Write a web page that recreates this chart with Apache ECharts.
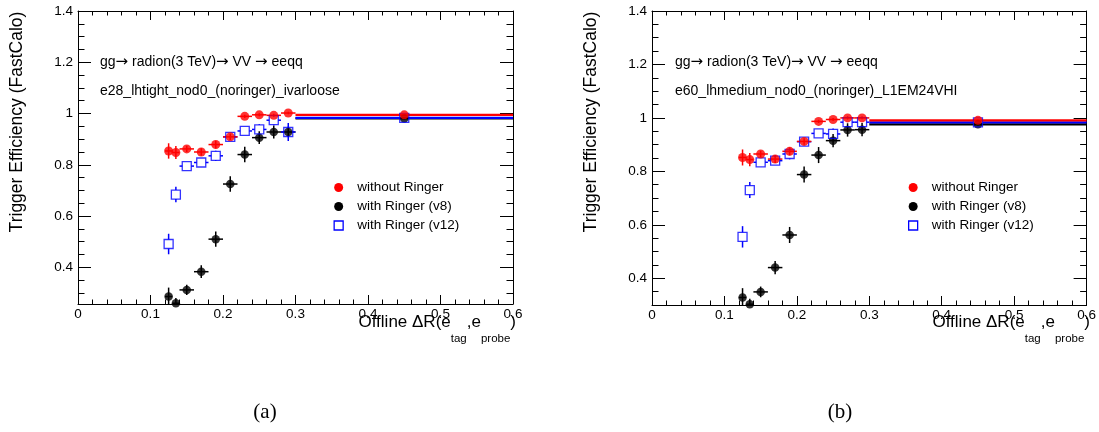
<!DOCTYPE html>
<html><head><meta charset="utf-8">
<script src="https://cdn.jsdelivr.net/npm/echarts@6/dist/echarts.min.js"></script>
<style>html,body{margin:0;padding:0;background:#fff}#c{width:1099px;height:432px}</style>
</head><body><div id="c"></div>
<script>
// ---- data ----
const binCenters    = [0.125, 0.135, 0.15, 0.17, 0.19, 0.21, 0.23, 0.25, 0.27, 0.29, 0.45];
const binHalfWidths = [0.005, 0.005, 0.01, 0.01, 0.01, 0.01, 0.01, 0.01, 0.01, 0.01, 0.15];

// panel (a): e28_lhtight_nod0_(noringer)_ivarloose
const a_noRinger     = [0.854, 0.848, 0.862, 0.850, 0.879, 0.909, 0.989, 0.995, 0.993, 1.002, 0.995];
const a_noRingerErr  = [0.030, 0.025, 0.012, 0.015, 0.015, 0.012, 0.006, 0.006, 0.006, 0.005, 0.003];
const a_v8           = [0.286, 0.260, 0.312, 0.383, 0.510, 0.725, 0.840, 0.906, 0.928, 0.928, 0.981];
const a_v8Err        = [0.035, 0.020, 0.020, 0.025, 0.030, 0.030, 0.030, 0.025, 0.025, 0.020, 0.004];
const a_v12          = [0.491, 0.684, 0.795, 0.809, 0.835, 0.909, 0.932, 0.938, 0.974, 0.928, 0.983];
const a_v12Err       = [0.040, 0.030, 0.010, 0.015, 0.020, 0.015, 0.015, 0.020, 0.020, 0.035, 0.004];

// panel (b): e60_lhmedium_nod0_(noringer)_L1EM24VHI
const b_noRinger     = [0.852, 0.844, 0.865, 0.846, 0.875, 0.912, 0.987, 0.994, 1.000, 1.000, 0.991];
const b_noRingerErr  = [0.030, 0.025, 0.012, 0.015, 0.015, 0.012, 0.006, 0.006, 0.006, 0.005, 0.003];
const b_v8           = [0.328, 0.303, 0.349, 0.440, 0.562, 0.788, 0.861, 0.915, 0.955, 0.956, 0.976];
const b_v8Err        = [0.035, 0.020, 0.020, 0.025, 0.030, 0.030, 0.030, 0.025, 0.025, 0.025, 0.004];
const b_v12          = [0.555, 0.730, 0.834, 0.840, 0.865, 0.911, 0.942, 0.940, 0.984, 0.984, 0.983];
const b_v12Err       = [0.040, 0.030, 0.012, 0.015, 0.020, 0.015, 0.015, 0.020, 0.020, 0.020, 0.004];

// ---- ticks ----
const xMajorTicks = [0, 0.1, 0.2, 0.3, 0.4, 0.5, 0.6];
const xMinorTicks = [0.02, 0.04, 0.06, 0.08, 0.12, 0.14, 0.16, 0.18, 0.22, 0.24, 0.26, 0.28,
                     0.32, 0.34, 0.36, 0.38, 0.42, 0.44, 0.46, 0.48, 0.52, 0.54, 0.56, 0.58];
const yMajorTicks = [0.4, 0.6, 0.8, 1.0, 1.2, 1.4];
const yMinorTicks = [0.3, 0.35, 0.45, 0.5, 0.55, 0.65, 0.7, 0.75, 0.85, 0.9, 0.95,
                     1.05, 1.1, 1.15, 1.25, 1.3, 1.35];
const yMinA = 0.257, yMinB = 0.3, yMax = 1.4;

const seriesNames = ['without Ringer', 'with Ringer (v8)', 'with Ringer (v12)'];
const titleLine1 = '{t|gg}{a|\u2192}{t| radion(3 TeV)}{a|\u2192}{t| VV }{a|\u2192}{t| eeqq}';
const triggerA = 'e28_lhtight_nod0_(noringer)_ivarloose';
const triggerB = 'e60_lhmedium_nod0_(noringer)_L1EM24VHI';

const FONT = '"Liberation Sans", Arial, Helvetica, sans-serif';
const RED = '#ff0000', BLACK = '#000000', BLUE = '#0000ff';

const grids = [
  {left: 78, top: 11, width: 435, height: 293},
  {left: 652, top: 11, width: 435, height: 294}
];

const fmt = v => String(+(+v).toFixed(2));
const xAxes = [], yAxes = [];
function addAxes(g, yMin) {
  const lineS = {color: '#000', width: 1};
  const base = {type: 'value', gridIndex: g, splitLine: {show: false}};
  xAxes.push(Object.assign({}, base, {min: 0, max: 0.6, position: 'bottom',
    axisLine: {show: true, onZero: false, lineStyle: lineS},
    axisTick: {show: true, inside: true, length: 9, customValues: xMajorTicks, lineStyle: lineS},
    axisLabel: {show: true, customValues: xMajorTicks, formatter: fmt, color: '#000', fontSize: 13.5, fontFamily: FONT, margin: 3}}));
  const xMajIdx = xAxes.length - 1;
  xAxes.push(Object.assign({}, base, {min: 0, max: 0.6, position: 'bottom',
    axisLine: {show: false, onZero: false},
    axisTick: {show: true, inside: true, length: 4.5, customValues: xMinorTicks, lineStyle: lineS},
    axisLabel: {show: false}}));
  xAxes.push(Object.assign({}, base, {min: 0, max: 0.6, position: 'top',
    axisLine: {show: true, onZero: false, lineStyle: lineS},
    axisTick: {show: true, inside: true, length: 9, customValues: xMajorTicks, lineStyle: lineS},
    axisLabel: {show: false}}));
  xAxes.push(Object.assign({}, base, {min: 0, max: 0.6, position: 'top',
    axisLine: {show: false, onZero: false},
    axisTick: {show: true, inside: true, length: 4.5, customValues: xMinorTicks, lineStyle: lineS},
    axisLabel: {show: false}}));
  yAxes.push(Object.assign({}, base, {min: yMin, max: yMax, position: 'left',
    axisLine: {show: true, onZero: false, lineStyle: lineS},
    axisTick: {show: true, inside: true, length: 13, customValues: yMajorTicks, lineStyle: lineS},
    axisLabel: {show: true, customValues: yMajorTicks, formatter: fmt, color: '#000', fontSize: 13.5, fontFamily: FONT, margin: 5}}));
  const yMajIdx = yAxes.length - 1;
  yAxes.push(Object.assign({}, base, {min: yMin, max: yMax, position: 'left',
    axisLine: {show: false, onZero: false},
    axisTick: {show: true, inside: true, length: 6.5, customValues: yMinorTicks.filter(v => v > yMin), lineStyle: lineS},
    axisLabel: {show: false}}));
  yAxes.push(Object.assign({}, base, {min: yMin, max: yMax, position: 'right',
    axisLine: {show: true, onZero: false, lineStyle: lineS},
    axisTick: {show: true, inside: true, length: 13, customValues: yMajorTicks, lineStyle: lineS},
    axisLabel: {show: false}}));
  yAxes.push(Object.assign({}, base, {min: yMin, max: yMax, position: 'right',
    axisLine: {show: false, onZero: false},
    axisTick: {show: true, inside: true, length: 6.5, customValues: yMinorTicks.filter(v => v > yMin), lineStyle: lineS},
    axisLabel: {show: false}}));
  return [xMajIdx, yMajIdx];
}
const axA = addAxes(0, yMinA);
const axB = addAxes(1, yMinB);

// error bars; 'gap' leaves the marker interior free (hollow marker)
function errRender(color, gap) {
  return function (params, api) {
    const x = api.value(0), y = api.value(1), dx = api.value(2), dy = api.value(3);
    const c = api.coord([x, y]);
    const p1 = api.coord([x - dx, y]), p2 = api.coord([x + dx, y]);
    const p3 = api.coord([x, y - dy]), p4 = api.coord([x, y + dy]);
    const wide = dx > 0.1;
    const hw = wide ? 2.2 : 1.5;
    const seg = (x1, y1, x2, y2, w) => ({type: 'line', shape: {x1, y1, x2, y2}, style: {stroke: color, lineWidth: w}});
    const ch = [];
    if (gap > 0) {
      if (c[0] - gap > p1[0]) ch.push(seg(p1[0], c[1], c[0] - gap, c[1], hw));
      if (p2[0] > c[0] + gap) ch.push(seg(c[0] + gap, c[1], p2[0], c[1], hw));
      if (p3[1] > c[1] + gap) ch.push(seg(c[0], c[1] + gap, c[0], p3[1], 1.5));
      if (c[1] - gap > p4[1]) ch.push(seg(c[0], p4[1], c[0], c[1] - gap, 1.5));
    } else {
      ch.push(seg(p1[0], p1[1], p2[0], p2[1], hw));
      ch.push(seg(p3[0], p3[1], p4[0], p4[1], 1.5));
    }
    return {type: 'group', children: ch};
  };
}

const series = [];
function addSet(ax, name, vals, errs, color, symbol, itemStyle, size, gap) {
  series.push({
    type: 'custom', name: name, xAxisIndex: ax[0], yAxisIndex: ax[1], clip: true,
    renderItem: errRender(color, gap), encode: {x: 0, y: 1}, itemStyle: {color: color},
    data: binCenters.map((x, i) => [x, vals[i], binHalfWidths[i], errs[i]]),
    silent: true, z: 2
  });
  series.push({
    type: 'scatter', name: name, xAxisIndex: ax[0], yAxisIndex: ax[1], clip: true,
    symbol: symbol, symbolSize: size, itemStyle: itemStyle,
    data: binCenters.map((x, i) => [x, vals[i]]), z: 3
  });
}
const redStyle = {color: RED};
const blackStyle = {color: BLACK};
const blueStyle = {color: 'rgba(0,0,0,0)', borderColor: BLUE, borderWidth: 1.3};
[[axA, a_noRinger, a_noRingerErr, a_v8, a_v8Err, a_v12, a_v12Err],
 [axB, b_noRinger, b_noRingerErr, b_v8, b_v8Err, b_v12, b_v12Err]].forEach(p => {
  addSet(p[0], seriesNames[1], p[3], p[4], BLACK, 'circle', blackStyle, 8.5, 0);
  addSet(p[0], seriesNames[2], p[5], p[6], BLUE, 'rect', blueStyle, 9, 4.5);
  addSet(p[0], seriesNames[0], p[1], p[2], RED, 'circle', redStyle, 9, 0);
});

function legendAt(left, top) {
  return {
    orient: 'vertical', left: left, top: top, itemWidth: 9, itemHeight: 9, itemGap: 4, padding: 0,
    selectedMode: false,
    textStyle: {fontSize: 13.5, fontFamily: FONT, color: '#000', lineHeight: 15, padding: [0, 0, 0, 9]},
    data: [
      {name: seriesNames[0], icon: 'circle', itemStyle: {color: RED, borderWidth: 0}},
      {name: seriesNames[1], icon: 'circle', itemStyle: {color: BLACK, borderWidth: 0}},
      {name: seriesNames[2], icon: 'rect', itemStyle: {color: 'rgba(0,0,0,0)', borderColor: BLUE, borderWidth: 1.3}}
    ]
  };
}

function txt(x, y, text, font, extra) {
  return {type: 'text', x: x, y: y, silent: true,
    style: Object.assign({text: text, font: font, fill: '#000', verticalAlign: 'middle', align: 'left'}, extra || {})};
}
function reaction(x, y) {
  return {type: 'text', x: x, y: y, silent: true, style: {
    text: titleLine1, verticalAlign: 'middle', align: 'left',
    rich: {
      t: {fontSize: 14, fontFamily: FONT, fill: '#000', lineHeight: 16, verticalAlign: 'middle'},
      a: {fontSize: 15, fontFamily: '"DejaVu Sans", sans-serif', fill: '#000', lineHeight: 16, verticalAlign: 'middle'}
    }}};
}
function xTitle(right) {
  return {type: 'text', x: right, y: 314, silent: true, style: {
    text: '{m|Offline \u0394R(e}{s|tag}{m|,e}{s|probe}{m|)}', align: 'right', verticalAlign: 'top',
    rich: {
      m: {fontSize: 17, fontFamily: FONT, fill: '#000', lineHeight: 19, verticalAlign: 'top'},
      s: {fontSize: 11.5, fontFamily: FONT, fill: '#000', lineHeight: 12, verticalAlign: 'top', padding: [19, 0, 0, 0]}
    }}};
}
function yTitle(x) {
  return {type: 'text', x: x, y: 122, rotation: Math.PI / 2, silent: true, style: {
    text: 'Trigger Efficiency (FastCalo)', font: '17.5px ' + FONT, fill: '#000', align: 'center', verticalAlign: 'middle'}};
}

const chart = echarts.init(document.getElementById('c'), null, {renderer: 'canvas'});
chart.setOption({
  animation: false,
  backgroundColor: '#fff',
  grid: grids,
  xAxis: xAxes,
  yAxis: yAxes,
  legend: [legendAt(333.5, 180), legendAt(908, 180)],
  series: series,
  graphic: [
    reaction(100, 62),
    txt(100, 91, triggerA, '14px ' + FONT),
    reaction(675, 62),
    txt(675, 91, triggerB, '14px ' + FONT),
    xTitle(516), xTitle(1090),
    yTitle(17), yTitle(591),
    txt(265, 412, '(a)', '21px "Liberation Serif", "DejaVu Serif", serif', {align: 'center'}),
    txt(840, 412, '(b)', '21px "Liberation Serif", "DejaVu Serif", serif', {align: 'center'})
  ]
});
</script></body></html>
